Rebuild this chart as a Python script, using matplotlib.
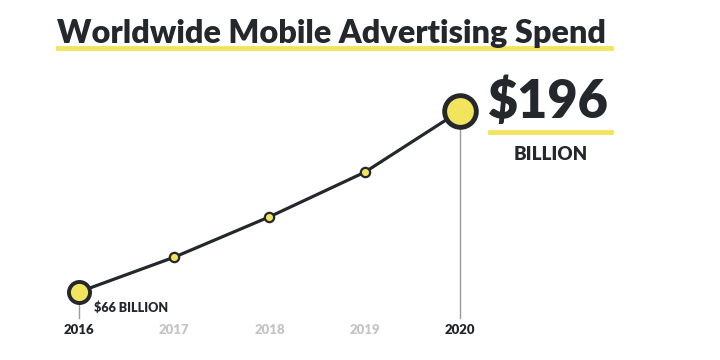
import matplotlib.pyplot as plt

# Worldwide mobile ad spend, billions USD
years = [2016, 2017, 2018, 2019, 2020]
spend = [66, 91, 120, 152, 196]
year_colors = ['#222629', '#c4c4c4', '#c4c4c4', '#c4c4c4', '#222629']

dark = '#24282c'
yellow = '#f3e45e'
grey = '#9a9a9a'
plt.rcParams['font.family'] = ['Lato', 'DejaVu Sans']

fig = plt.figure(figsize=(7.2, 3.6), dpi=100)
ax = fig.add_axes([0, 0, 1, 1])
ax.set_xlim(2015.171, 2022.73)
ax.set_ylim(17.16, 275.7)
ax.axis('off')

# title + underline (figure coords)
fig.text(0.079, 0.907, 'Worldwide Mobile Advertising Spend', fontsize=23.3,
         fontweight='heavy', color=dark, ha='left', va='center')
fig.add_artist(plt.Line2D([0.081, 0.849], [0.866, 0.866], color=yellow, lw=3.5))

# vertical guides for first and last points
for i in (0, -1):
    ax.plot([years[i], years[i]], [spend[i], 47], color=grey, lw=1, zorder=1)

ax.plot(years, spend, color=dark, lw=2.3, zorder=2)
ax.scatter(years[1:-1], spend[1:-1], s=45, color=yellow, edgecolor=dark, lw=1.6, zorder=3)
ax.scatter(years[0], spend[0], s=230, color=yellow, edgecolor=dark, lw=2.8, zorder=3)
ax.scatter(years[-1], spend[-1], s=520, color=yellow, edgecolor=dark, lw=3.5, zorder=3)

for y, c in zip(years, year_colors):
    ax.text(y, 38.5, str(y), color=c, fontsize=9.5, fontweight='heavy', ha='center', va='center')

ax.text(years[0] + 0.155, spend[0] - 11, f'${spend[0]} BILLION', color=dark, fontsize=9,
        fontweight='heavy', ha='left', va='center')

fig.text(0.676, 0.715, f'${spend[-1]}', fontsize=37.5, fontweight='heavy', color=dark,
         ha='left', va='center')
fig.add_artist(plt.Line2D([0.681, 0.849], [0.633, 0.633], color=yellow, lw=3.5))
fig.text(0.765, 0.57, 'BILLION', fontsize=13.5, fontweight='heavy', color=dark,
         ha='center', va='center')

fig.savefig('out.png', dpi=100, facecolor='white')
